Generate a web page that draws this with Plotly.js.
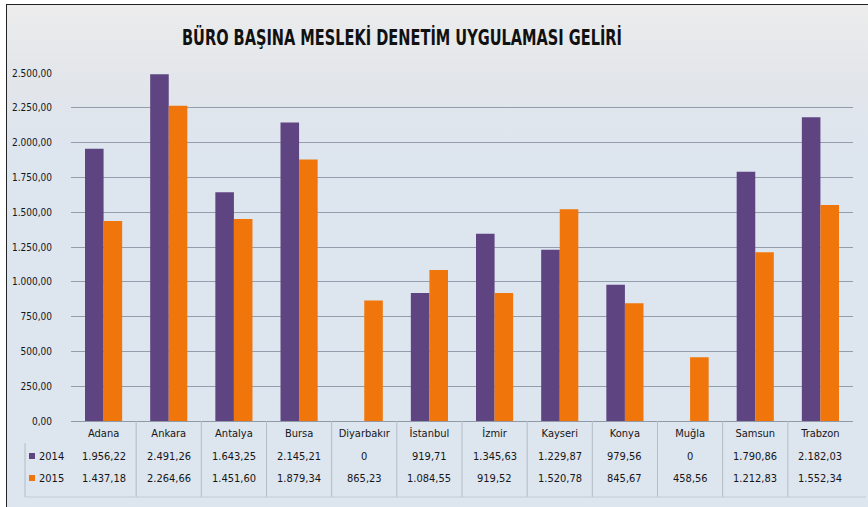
<!DOCTYPE html>
<html>
<head>
<meta charset="utf-8">
<script src="https://cdn.plot.ly/plotly-3.0.1.min.js"></script>
<style>
html,body{margin:0;padding:0;background:#ffffff;}
#wrap{position:absolute;left:0;top:0;width:868px;height:507px;overflow:hidden;background:#fff;}
#frame{position:absolute;left:6px;top:4px;width:862px;height:503px;border-left:1.5px solid #222;border-top:1.5px solid #222;
 background:linear-gradient(to bottom,#ececec 0%,#e3e6ea 14%,#dde5ef 30%,#dde5ef 100%);}
#chart{position:absolute;left:0;top:0;width:868px;height:507px;}
</style>
</head>
<body>
<div id="wrap"><div id="frame"></div><div id="chart"></div></div>
<script>
const categories = ["Adana","Ankara","Antalya","Bursa","Diyarbakır","İstanbul","İzmir","Kayseri","Konya","Muğla","Samsun","Trabzon"];
const seriesNames = ["2014","2015"];
const values2014 = [1956.22,2491.26,1643.25,2145.21,0,919.71,1345.63,1229.87,979.56,0,1790.86,2182.03];
const values2015 = [1437.18,2264.66,1451.60,1879.34,865.23,1084.55,919.52,1520.78,845.67,458.56,1212.83,1552.34];
const yTickVals = [0,250,500,750,1000,1250,1500,1750,2000,2250,2500];
const titleText = "BÜRO BAŞINA MESLEKİ DENETİM UYGULAMASI GELİRİ";

const colors = ["#5f4482","#f0760c"];
const W = 868, H = 507, L = 71, R = 15, T = 73, B = 86;
const pw = W - L - R, ph = H - T - B;
const px2x = p => (p - L) / pw;
const py2y = p => (H - B - p) / ph;

function trFormat(v, dec) {
  if (v === 0 && dec === null) return "0";
  const d = dec === null ? 2 : dec;
  const parts = v.toFixed(d).split(".");
  parts[0] = parts[0].replace(/\B(?=(\d{3})+(?!\d))/g, ".");
  return parts.join(",");
}

const FONT = "'DejaVu Sans Condensed','Liberation Sans Narrow','DejaVu Sans',sans-serif";
const textColor = "#161616";

const traces = [values2014, values2015].map((vals, i) => ({
  type: "bar",
  name: seriesNames[i],
  x: categories,
  y: vals,
  marker: {color: colors[i]},
  hoverinfo: "x+y+name"
}));

const annotations = [];
const shapes = [];
[values2014, values2015].forEach((vals, i) => {
  const rowY = i === 0 ? py2y(456) : py2y(478);
  vals.forEach((v, j) => {
    annotations.push({
      xref: "x", yref: "paper", x: categories[j], y: rowY,
      text: trFormat(v, v === 0 ? null : 2), showarrow: false,
      xanchor: "center", yanchor: "middle",
      font: {family: FONT, size: 11, color: textColor}
    });
  });
  annotations.push({
    xref: "paper", yref: "paper", x: px2x(37), y: rowY,
    text: seriesNames[i], showarrow: false, xanchor: "left", yanchor: "middle",
    font: {family: FONT, size: 11, color: textColor}
  });
  shapes.push({
    type: "rect", xref: "paper", yref: "paper",
    x0: px2x(29), x1: px2x(35), y0: rowY - 3/ph, y1: rowY + 3/ph,
    fillcolor: colors[i], line: {width: 0}
  });
});

for (let j = 0; j < categories.length - 1; j++) {
  shapes.push({
    type: "line", xref: "x", yref: "paper",
    x0: j + 0.5, x1: j + 0.5, y0: 0, y1: py2y(497),
    line: {color: "#b3bbc7", width: 1}
  });
}
shapes.push({type: "line", xref: "paper", yref: "paper", x0: px2x(25), x1: px2x(25), y0: py2y(443), y1: py2y(497), line: {color: "#b3bbc7", width: 1}});
shapes.push({type: "line", xref: "paper", yref: "paper", x0: px2x(25), x1: px2x(866), y0: py2y(497), y1: py2y(497), line: {color: "#c4cbd5", width: 1}});

const tickText = yTickVals.map(v => trFormat(v, 2));

const layout = {
  width: W, height: H,
  margin: {l: L, r: R, t: T, b: B, pad: 0},
  paper_bgcolor: "rgba(0,0,0,0)",
  plot_bgcolor: "rgba(0,0,0,0)",
  showlegend: false,
  barmode: "group",
  bargap: 0.43,
  bargroupgap: 0,
  title: {
    text: titleText,
    xref: "paper", x: px2x(402), xanchor: "center",
    yref: "container", y: 1 - 37 / H, yanchor: "middle",
    font: {family: FONT, size: 22, color: "#111111", weight: "bold"}
  },
  xaxis: {
    type: "category",
    showgrid: false,
    showline: true, linecolor: "#9099a6", linewidth: 1,
    ticks: "",
    tickfont: {family: FONT, size: 11, color: textColor},
    ticklabelstandoff: 2,
    fixedrange: true
  },
  yaxis: {
    range: [0, 2500],
    tickvals: yTickVals,
    ticktext: tickText,
    showgrid: true, gridcolor: "#939dab", gridwidth: 1,
    zeroline: false,
    showline: false,
    ticks: "",
    ticklabelstandoff: 18,
    tickfont: {family: FONT, size: 10, color: textColor},
    fixedrange: true
  },
  annotations: annotations,
  shapes: shapes,
  font: {family: FONT}
};

Plotly.newPlot("chart", traces, layout, {displayModeBar: false}).then(gd => {
  const t = gd.querySelector(".gtitle");
  if (t) {
    t.setAttribute("textLength", "440");
    t.setAttribute("lengthAdjust", "spacingAndGlyphs");
  }
});
</script>
</body>
</html>
